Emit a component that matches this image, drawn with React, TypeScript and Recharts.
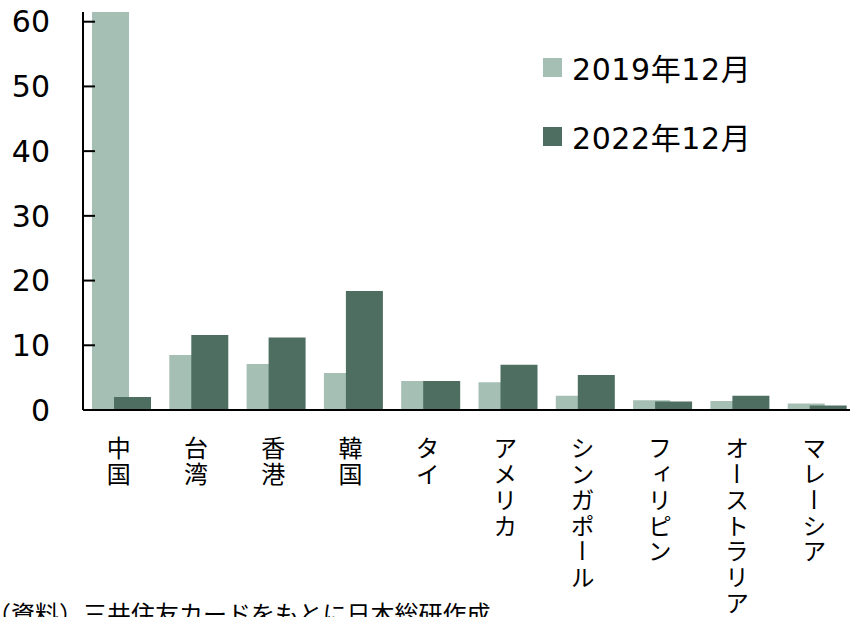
import React from 'react';
import { BarChart, Bar, XAxis, YAxis } from 'recharts';

// 国・地域別シェア（%）
const countries = ['中国', '台湾', '香港', '韓国', 'タイ', 'アメリカ', 'シンガポール', 'フィリピン', 'オーストラリア', 'マレーシア'];
const share2019 = [61.5, 8.5, 7.1, 5.7, 4.5, 4.3, 2.2, 1.5, 1.4, 1.0];
const share2022 = [2.0, 11.6, 11.2, 18.4, 4.5, 7.0, 5.4, 1.3, 2.2, 0.7];
const yTicks = [0, 10, 20, 30, 40, 50, 60];
const seriesLabels = ['2019年12月', '2022年12月'];

const LIGHT = '#a5bfb5';
const DARK = '#4e6e62';
const FONT = '"DejaVu Sans", "Noto Sans CJK JP", sans-serif';

const data = countries.map((name, i) => ({
  name,
  y2019: share2019[i],
  y2022: share2022[i],
}));

const VerticalTick = (props: any) => {
  const { x, y, payload } = props;
  return (
    <text
      x={x - 3}
      y={y + 18}
      fontSize={24}
      fill="#000"
      fontFamily='"Noto Sans CJK JP", sans-serif'
      style={{ writingMode: 'vertical-rl', letterSpacing: 1.8 }}
    >
      {payload.value}
    </text>
  );
};

const LegendBox = () => (
  <div style={{ position: 'absolute', left: 543, top: 46, fontFamily: FONT, fontSize: 30, color: '#000' }}>
    {[LIGHT, DARK].map((color, i) => (
      <div key={i} style={{ display: 'flex', alignItems: 'center', height: 42, marginBottom: i === 0 ? 27 : 0 }}>
        <div style={{ width: 19, height: 19, background: color, marginRight: 10 }} />
        <span style={{ letterSpacing: 0.6 }}>{seriesLabels[i]}</span>
      </div>
    ))}
  </div>
);

const App: React.FC = () => {
  return (
    <div style={{ position: 'fixed', left: 0, top: 0, width: 850, height: 617, overflow: 'hidden', background: '#fff' }}>
      <BarChart
        width={860}
        height={617}
        data={data}
        margin={{ top: 12, right: 4, left: 0, bottom: 0 }}
        barSize={37}
        barGap={-15}
      >
        <XAxis
          dataKey="name"
          height={207}
          interval={0}
          tickLine={false}
          axisLine={{ stroke: '#000', strokeWidth: 2 }}
          tick={<VerticalTick />}
        />
        <YAxis
          width={83}
          domain={[0, 61.5]}
          ticks={yTicks}
          allowDataOverflow
          tickSize={-12}
          tickMargin={45}
          axisLine={{ stroke: '#000', strokeWidth: 2 }}
          tickLine={{ stroke: '#000', strokeWidth: 2 }}
          tick={{ fill: '#000', fontSize: 30, fontFamily: FONT }}
        />
        <Bar dataKey="y2019" name={seriesLabels[0]} fill={LIGHT} isAnimationActive={false} />
        <Bar dataKey="y2022" name={seriesLabels[1]} fill={DARK} isAnimationActive={false} />
      </BarChart>
      <LegendBox />
      <svg width={850} height={617} style={{ position: 'absolute', left: 0, top: 0, pointerEvents: 'none' }}>
        <text x={-13} y={623} fontSize={24} fill="#000" fontFamily='"Noto Sans CJK JP", sans-serif'>
          （資料）三井住友カードをもとに日本総研作成
        </text>
      </svg>
    </div>
  );
};

export default App;
